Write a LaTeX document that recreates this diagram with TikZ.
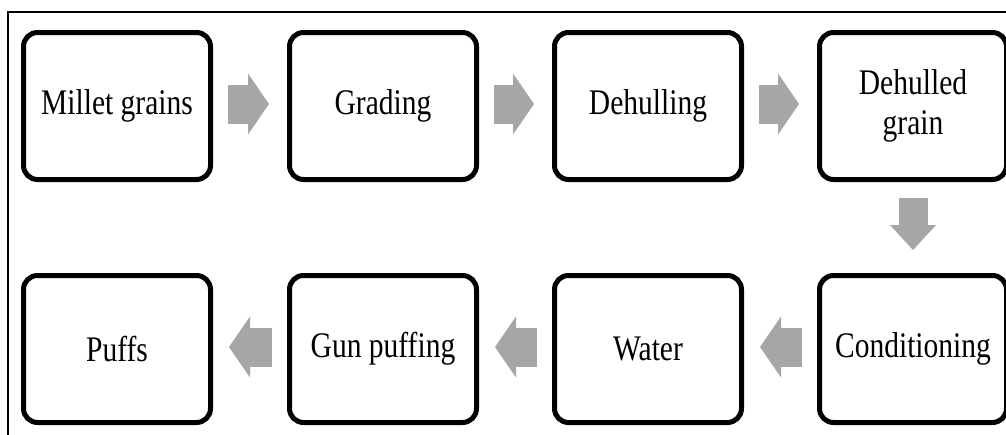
\documentclass[tikz,border=0pt]{standalone}
\usepackage{fontspec}
\setmainfont{Liberation Serif}[FakeStretch=0.82]
\usetikzlibrary{arrows.meta}
\definecolor{arrowgray}{HTML}{A6A6A6}
\tikzset{
  stepbox/.style={draw=black, line width=5pt, rounded corners=14pt,
    minimum width=187pt, minimum height=147pt, align=center,
    font=\fontsize{36}{40}\selectfont, fill=white},
  hflow/.style={draw=arrowgray, line width=39pt,
    -{Triangle[length=21pt,width=61pt,line width=0pt,color=arrowgray]}},
  vflow/.style={draw=arrowgray, line width=29pt,
    -{Triangle[length=25pt,width=46pt,line width=0pt,color=arrowgray]}},
}
\begin{document}
\begin{tikzpicture}[x=1pt,y=-1pt]
\useasboundingbox (0,0) rectangle (1006,434);
\clip (0,0) rectangle (1006,434);
\fill[white] (0,0) rectangle (1006,434);
% outer frame (open at the bottom and right)
\draw[line width=1.3pt] (8,440) -- (8,12) -- (1010,12);

% process steps
\node[stepbox] (b1) at (117,106) {Millet grains};
\node[stepbox] (b2) at (383,106) {Grading};
\node[stepbox] (b3) at (648,106) {Dehulling};
\node[stepbox] (b4) at (913,106) {Dehulled\\grain};
\node[stepbox] (b8) at (913,349) {Conditioning};
\node[stepbox] (b7) at (648,349) {Water};
\node[stepbox] (b6) at (383,349) {Gun puffing};
\node[stepbox] (b5) at (117,349) {Puffs};

% flow arrows
\draw[hflow] ([shift={(15pt,2pt)}]b1.east) -- ([shift={(-18pt,2pt)}]b2.west);
\draw[hflow] ([shift={(15pt,2pt)}]b2.east) -- ([shift={(-18pt,2pt)}]b3.west);
\draw[hflow] ([shift={(15pt,2pt)}]b3.east) -- ([shift={(-18pt,2pt)}]b4.west);
\draw[vflow] ([yshift=-16pt]b4.south) -- ([yshift=23pt]b8.north);
\draw[hflow] ([shift={(-15pt,2pt)}]b8.west) -- ([shift={(16pt,2pt)}]b7.east);
\draw[hflow] ([shift={(-15pt,2pt)}]b7.west) -- ([shift={(16pt,2pt)}]b6.east);
\draw[hflow] ([shift={(-15pt,2pt)}]b6.west) -- ([shift={(16pt,2pt)}]b5.east);
\end{tikzpicture}
\end{document}
